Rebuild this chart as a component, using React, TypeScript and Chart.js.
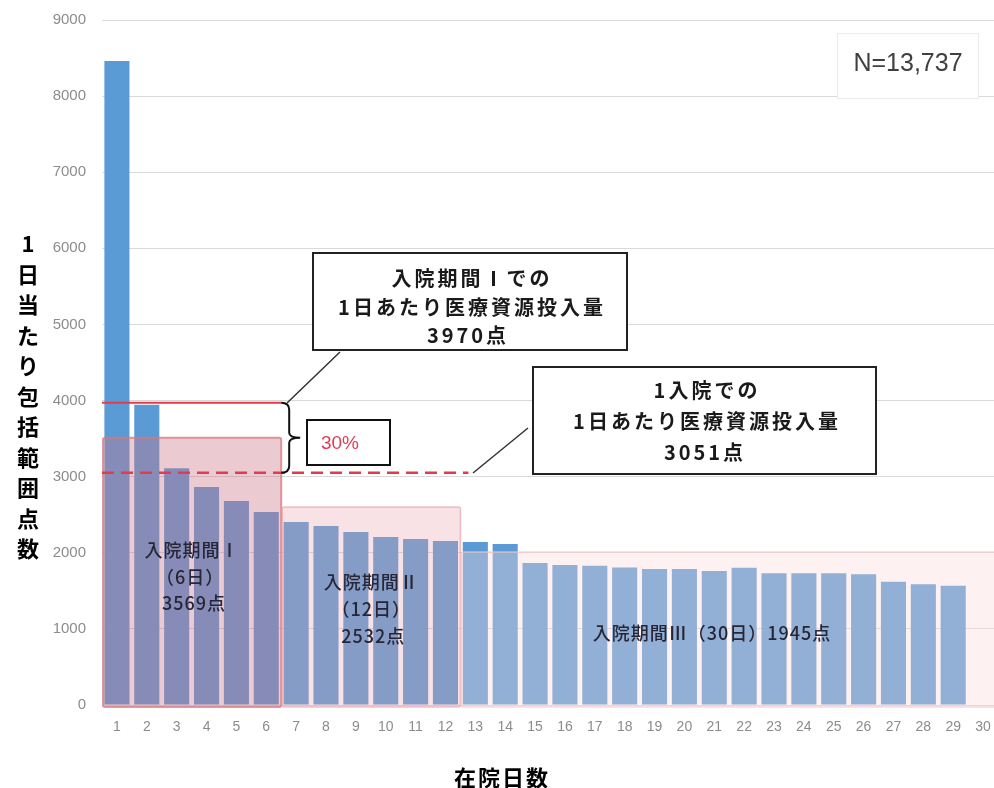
import { useEffect, useRef } from "react";
import { Chart, registerables } from "chart.js";

Chart.register(...registerables);

const days = Array.from({ length: 30 }, (_, i) => String(i + 1));
const points = [
  8460, 3945, 3110, 2865, 2680, 2536, 2405, 2352, 2273, 2207, 2181, 2155, 2142, 2116,
  1866, 1840, 1830, 1808, 1787, 1787, 1761, 1804, 1730, 1730, 1730, 1717, 1620, 1585, 1568, null,
];
const yTicks = [0, 1000, 2000, 3000, 4000, 5000, 6000, 7000, 8000, 9000];

const periodNames = ["入院期間Ⅰ", "入院期間Ⅱ", "入院期間Ⅲ"];
const periodDays = ["（6日）", "（12日）", "（30日）"];
const periodPoints = ["3569点", "2532点", "1945点"];
const periodStart = [0, 6, 12];
const periodEnd = [5, 11, 29];
const periodLevel = [3510, 2600, 2010];

const periodIAvg = 3970;
const overallAvg = 3051;
const sampleLabel = "N=13,737";
const yTitle = "1日当たり包括範囲点数";
const xTitle = "在院日数";

const JP = '"Noto Sans CJK JP", "Noto Sans", sans-serif';
const LAT = '"Liberation Sans", Arial, sans-serif';

const overlayFill = ["rgba(205,115,135,0.38)", "rgba(232,160,170,0.30)", "rgba(250,215,215,0.35)"];
const overlayStroke = ["rgba(215,120,125,0.75)", "rgba(235,150,155,0.6)", "rgba(245,200,200,0.7)"];

const annot = {
  id: "annot",
  afterDatasetsDraw(chart: any) {
    const ctx = chart.ctx as CanvasRenderingContext2D;
    const x = chart.scales.x;
    const y = chart.scales.y;
    const w = x.getPixelForValue(1) - x.getPixelForValue(0);
    const area = chart.chartArea;
    ctx.save();
    const edges: number[][] = [];
    for (let i = 0; i < 3; i++) {
      const x1 = x.getPixelForValue(periodStart[i]) - w / 2 + 1;
      const x2 = x.getPixelForValue(periodEnd[i]) + w / 2;
      const yt = y.getPixelForValue(periodLevel[i]);
      const yb = y.getPixelForValue(0) + 2;
      edges.push([x1, x2, yt, yb]);
      ctx.beginPath();
      (ctx as any).roundRect(x1, yt, x2 - x1, yb - yt, 2);
      ctx.fillStyle = overlayFill[i];
      ctx.fill();
      ctx.lineWidth = i === 0 ? 2 : 1.5;
      ctx.strokeStyle = overlayStroke[i];
      ctx.stroke();
    }
    ctx.fillStyle = "#262636";
    ctx.textAlign = "center";
    ctx.textBaseline = "middle";
    ctx.font = `500 18px ${JP}`;
    (ctx as any).letterSpacing = "1px";
    const c1 = (edges[0][0] + edges[0][1]) / 2;
    ctx.fillText(periodNames[0], c1, 550);
    ctx.fillText(periodDays[0], c1 - 2, 577);
    ctx.fillText(periodPoints[0], c1 + 2, 603);
    const c2 = (edges[1][0] + edges[1][1]) / 2;
    ctx.fillText(periodNames[1], c2, 582);
    ctx.fillText(periodDays[1], c2, 609);
    ctx.fillText(periodPoints[1], c2 + 2, 636);
    ctx.fillText(`${periodNames[2]}${periodDays[2]}${periodPoints[2]}`, 712, 633);

    const yA = y.getPixelForValue(periodIAvg);
    const yB = y.getPixelForValue(overallAvg);
    const xr = edges[0][1];
    ctx.strokeStyle = "#E23B4E";
    ctx.lineWidth = 2;
    ctx.beginPath();
    ctx.moveTo(area.left, yA);
    ctx.lineTo(xr, yA);
    ctx.stroke();
    ctx.setLineDash([12, 7]);
    ctx.lineWidth = 2.5;
    ctx.beginPath();
    ctx.moveTo(area.left, yB);
    ctx.lineTo(edges[1][1] + 8, yB);
    ctx.stroke();
    ctx.setLineDash([]);

    const ym = (yA + yB) / 2;
    ctx.strokeStyle = "#111";
    ctx.lineWidth = 2;
    ctx.beginPath();
    ctx.moveTo(xr, yA);
    ctx.quadraticCurveTo(xr + 8, yA, xr + 8, yA + 7);
    ctx.lineTo(xr + 8, ym - 5);
    ctx.quadraticCurveTo(xr + 8, ym, xr + 19, ym);
    ctx.moveTo(xr + 19, ym);
    ctx.quadraticCurveTo(xr + 8, ym, xr + 8, ym + 5);
    ctx.lineTo(xr + 8, yB - 7);
    ctx.quadraticCurveTo(xr + 8, yB, xr, yB);
    ctx.stroke();

    ctx.fillStyle = "#fff";
    ctx.fillRect(307, 420, 83, 45);
    ctx.strokeRect(307, 420, 83, 45);
    ctx.fillStyle = "#E23B55";
    ctx.font = `19px ${LAT}`;
    (ctx as any).letterSpacing = "0px";
    ctx.fillText("30%", 340, 444);

    ctx.strokeStyle = "#333";
    ctx.lineWidth = 1.5;
    ctx.beginPath();
    ctx.moveTo(340, 352);
    ctx.lineTo(287, 403);
    ctx.moveTo(473, 473);
    ctx.lineTo(528, 428);
    ctx.stroke();

    ctx.fillStyle = "#fff";
    ctx.strokeStyle = "#222";
    ctx.lineWidth = 2;
    ctx.fillRect(313, 253, 314, 97);
    ctx.strokeRect(313, 253, 314, 97);
    ctx.fillStyle = "#1a1a1a";
    ctx.font = `bold 20px ${JP}`;
    (ctx as any).letterSpacing = "3px";
    ctx.fillText("入院期間Ⅰでの", 472, 278);
    ctx.fillText("1日あたり医療資源投入量", 472, 307);
    ctx.fillText("3970点", 468, 335);

    ctx.fillStyle = "#fff";
    ctx.fillRect(533, 367, 343, 107);
    ctx.strokeRect(533, 367, 343, 107);
    ctx.fillStyle = "#1a1a1a";
    ctx.fillText("1入院での", 707, 390);
    ctx.fillText("1日あたり医療資源投入量", 707, 421);
    ctx.fillText("3051点", 705, 452);

    (ctx as any).letterSpacing = "0px";
    ctx.fillStyle = "#fff";
    ctx.fillRect(837, 33, 141, 65);
    ctx.strokeStyle = "#ECECEC";
    ctx.lineWidth = 1;
    ctx.strokeRect(837.5, 33.5, 141, 65);
    ctx.fillStyle = "#404040";
    ctx.font = `25px ${LAT}`;
    ctx.fillText(sampleLabel, 908, 64);

    ctx.fillStyle = "#000";
    ctx.font = `bold 22px ${JP}`;
    const chars = Array.from(yTitle);
    chars.forEach((ch, i) => ctx.fillText(ch, 28, 244 + i * 30.5));
    ctx.font = `bold 22px ${JP}`;
    (ctx as any).letterSpacing = "2px";
    ctx.fillText(xTitle, 502, 778);
    ctx.restore();
  },
};

export default function App() {
  const ref = useRef<HTMLCanvasElement | null>(null);
  useEffect(() => {
    if (!ref.current) return;
    const chart = new Chart(ref.current, {
      type: "bar",
      data: {
        labels: days,
        datasets: [
          {
            data: points as any,
            backgroundColor: "#5B9BD5",
            borderWidth: 0,
            barPercentage: 0.84,
            categoryPercentage: 1,
          },
        ],
      },
      options: {
        animation: false,
        responsive: false,
        devicePixelRatio: 1,
        layout: { padding: { top: 20, right: 2, left: 0, bottom: 0 } },
        plugins: { legend: { display: false }, tooltip: { enabled: false } },
        scales: {
          x: {
            grid: { display: false, drawTicks: false },
            border: { display: false },
            ticks: {
              color: "#8C8C8C",
              font: { family: LAT, size: 14 },
              padding: 14,
              maxRotation: 0,
              autoSkip: false,
            },
            afterFit: (s: any) => {
              s.height = 83;
              s.paddingLeft = 0;
              s.paddingRight = 0;
            },
          },
          y: {
            min: 0,
            max: 9000,
            afterBuildTicks: (s: any) => {
              s.ticks = yTicks.map((v) => ({ value: v }));
            },
            grid: { color: "#D9D9D9", drawTicks: false, lineWidth: 1 },
            border: { display: false },
            ticks: {
              color: "#8C8C8C",
              font: { family: LAT, size: 15 },
              padding: 16,
              callback: (v: any) => String(v),
            },
            afterFit: (s: any) => {
              s.width = 102;
              s.paddingTop = 0;
              s.paddingBottom = 0;
            },
          },
        },
      },
      plugins: [annot],
    });
    return () => chart.destroy();
  }, []);
  return (
    <div style={{ position: "absolute", left: 0, top: 0, width: 994, height: 788, overflow: "hidden", background: "#fff" }}>
      <canvas ref={ref} width={1000} height={788} style={{ width: 1000, height: 788, display: "block" }} />
    </div>
  );
}
